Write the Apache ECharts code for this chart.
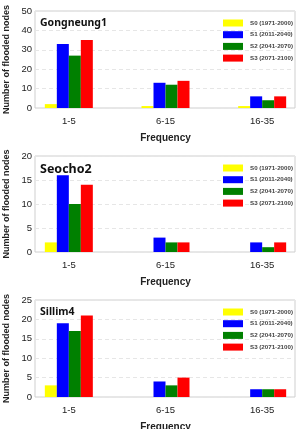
<!DOCTYPE html>
<html>
<head>
<meta charset="utf-8">
<script src="https://cdn.jsdelivr.net/npm/echarts@6/dist/echarts.min.js"></script>
<style>
  html, body { margin: 0; padding: 0; background: #fff; }
  #chart { width: 298px; height: 429px; }
</style>
</head>
<body>
<div id="chart"></div>
<script>
// 数据
var categories = ['1-5', '6-15', '16-35'];
var scenarioNames = ['S0 (1971-2000)', 'S1 (2011-2040)', 'S2 (2041-2070)', 'S3 (2071-2100)'];
var scenarioColors = ['#ffff00', '#0000ff', '#008000', '#ff0000'];

var gongneungS0 = [2, 1, 1];
var gongneungS1 = [33, 13, 6];
var gongneungS2 = [27, 12, 4];
var gongneungS3 = [35, 14, 6];

var seochoS0 = [2, 0, 0];
var seochoS1 = [16, 3, 2];
var seochoS2 = [10, 2, 1];
var seochoS3 = [14, 2, 2];

var sillimS0 = [3, 0, 0];
var sillimS1 = [19, 4, 2];
var sillimS2 = [17, 3, 2];
var sillimS3 = [21, 5, 2];

var stationNames = ['Gongneung1', 'Seocho2', 'Sillim4'];
var yMax = [50, 20, 25];
var yInterval = [10, 5, 5];

/*
 * 面板布局
 * */
var panelTop = [11, 156, 300];
var panelHeight = [97, 96, 97];
var titleSize = [10.5, 12.5, 10.5];
var panelData = [
    [gongneungS0, gongneungS1, gongneungS2, gongneungS3],
    [seochoS0, seochoS1, seochoS2, seochoS3],
    [sillimS0, sillimS1, sillimS2, sillimS3]
];

var font = 'Liberation Sans, Arial, sans-serif';
var grids = [], xAxes = [], yAxes = [], series = [], legends = [], titles = [];

for (var p = 0; p < 3; p++) {
    var boxIdx = 2 * p;
    var barIdx = 2 * p + 1;

    // 外框 + 纵轴
    grids.push({
        left: 35, width: 260, top: panelTop[p], height: panelHeight[p],
        outerBoundsMode: 'none', containLabel: false,
        show: true, borderColor: '#cfcfcf', borderWidth: 1, backgroundColor: 'transparent'
    });
    // 柱子所在网格 (类目中心更靠外)
    grids.push({
        left: 20.5, width: 290, top: panelTop[p], height: panelHeight[p],
        outerBoundsMode: 'none', containLabel: false, show: false
    });

    xAxes.push({gridIndex: boxIdx, type: 'value', show: false});
    xAxes.push({
        gridIndex: barIdx, type: 'category', data: categories,
        axisLine: {show: false}, axisTick: {show: false},
        axisLabel: {color: '#222', fontSize: 9.5, fontFamily: font, margin: 8},
        name: 'Frequency', nameLocation: 'middle', nameGap: 25,
        nameTextStyle: {color: '#222', fontSize: 10, fontWeight: 'bold', fontFamily: font}
    });

    yAxes.push({
        gridIndex: boxIdx, type: 'value', min: 0, max: yMax[p], interval: yInterval[p],
        axisLine: {show: false}, axisTick: {show: false},
        axisLabel: {color: '#222', fontSize: 9.5, fontFamily: font, margin: 3},
        splitLine: {lineStyle: {color: '#e6e6e6', type: [4, 3], width: 1}},
        name: 'Number of flooded nodes', nameLocation: 'middle', nameGap: 21,
        nameTextStyle: {color: '#222', fontSize: 9, fontWeight: 'bold', fontFamily: font}
    });
    yAxes.push({
        gridIndex: barIdx, type: 'value', min: 0, max: yMax[p], interval: yInterval[p], show: false
    });

    for (var s = 0; s < 4; s++) {
        series.push({
            type: 'bar', name: scenarioNames[s],
            xAxisIndex: barIdx, yAxisIndex: barIdx,
            data: panelData[p][s],
            barWidth: 12, barGap: '0%',
            itemStyle: {color: scenarioColors[s]},
            animation: false
        });
    }

    legends.push({
        orient: 'vertical', left: 218, top: panelTop[p] + 3.5,
        itemWidth: 20, itemHeight: 7, itemGap: 4.7, icon: 'rect',
        data: scenarioNames,
        textStyle: {color: '#444', fontSize: 6.2, fontWeight: 'bold', fontFamily: font, padding: [0, 0, 0, 2]}
    });

    titles.push({
        text: stationNames[p], left: 35, top: panelTop[p] + 2,
        textStyle: {color: '#111', fontSize: titleSize[p], fontWeight: 'bold', fontFamily: 'Noto Sans, sans-serif'}
    });
}

var chart = echarts.init(document.getElementById('chart'));
chart.setOption({
    animation: false,
    title: titles,
    legend: legends,
    grid: grids,
    xAxis: xAxes,
    yAxis: yAxes,
    series: series
});
</script>
</body>
</html>
